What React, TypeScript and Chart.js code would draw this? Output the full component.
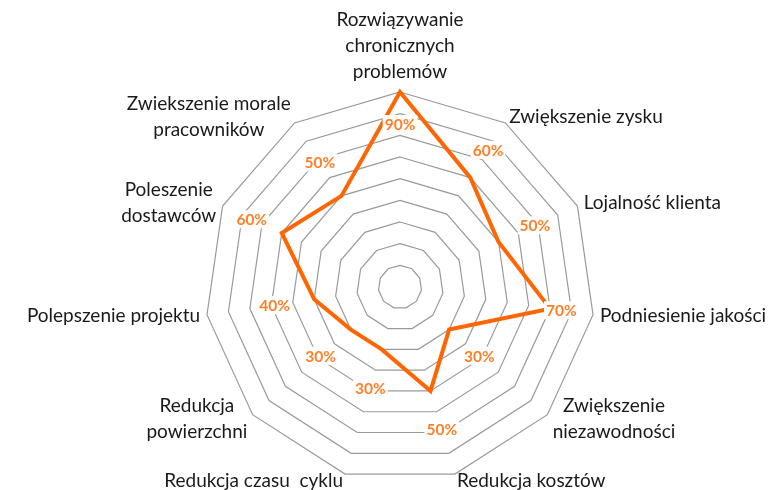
import React, { useEffect, useRef } from "react";
import { Chart, registerables } from "chart.js";

Chart.register(...registerables);

// ---- data ----
const categories: string[][] = [
  ["Rozwiązywanie", "chronicznych", "problemów"],
  ["Zwiększenie zysku"],
  ["Lojalność klienta"],
  ["Podniesienie jakości"],
  ["Zwiększenie", "niezawodności"],
  ["Redukcja kosztów"],
  ["Redukcja czasu  cyklu"],
  ["Redukcja", "powierzchni"],
  ["Polepszenie projektu"],
  ["Poleszenie", "dostawców"],
  ["Zwiekszenie morale", "pracowników"],
];
const values: number[] = [90, 60, 50, 70, 30, 50, 30, 30, 40, 60, 50];
const valueLabels: string[] = values.map((v) => v + "%");
const scaleMin = 0;
const scaleMax = 90;
const scaleStep = 10;

const LINE_COLOR = "#FF6600";
const LABEL_COLOR = "#FF7F27";
const GRID_COLOR = "#9A9A9A";
const TEXT_COLOR = "#1a1a1a";
const FONT_FAMILY = "Lato, 'Liberation Sans', sans-serif";

const labelsPlugin = {
  id: "customLabels",
  afterDatasetsDraw(chart: any) {
    const scale = chart.scales.r;
    const ctx = chart.ctx;
    const R = scale.drawingArea;
    ctx.save();
    // data labels
    ctx.font = `bold 15.5px ${FONT_FAMILY}`;
    ctx.textAlign = "center";
    ctx.textBaseline = "middle";
    values.forEach((v, i) => {
      const r = scale.getDistanceFromCenterForValue(v);
      const lr = Math.min(r + 40, R - 32);
      const p = scale.getPointPosition(i, lr);
      const txt = valueLabels[i];
      const w = ctx.measureText(txt).width;
      ctx.fillStyle = "#ffffff";
      ctx.fillRect(p.x - w / 2 - 2, p.y - 9, w + 4, 18);
      ctx.fillStyle = LABEL_COLOR;
      ctx.fillText(txt, p.x, p.y + 1);
    });
    // category labels
    const lineH = 26;
    ctx.font = `19px ${FONT_FAMILY}`;
    ctx.fillStyle = TEXT_COLOR;
    categories.forEach((lines, i) => {
      const a = scale.getPointPosition(i, R + 7);
      const theta = (i * 2 * Math.PI) / categories.length;
      const s = Math.sin(theta);
      const c = Math.cos(theta);
      const blockH = lines.length * lineH;
      const blockW = Math.max(...lines.map((t) => ctx.measureText(t).width));
      let cx: number;
      let cy = a.y;
      if (Math.abs(s) < 0.1) {
        cx = a.x;
        cy = a.y - (c * blockH) / 2;
      } else if (s > 0) {
        cx = a.x + blockW / 2;
      } else {
        cx = a.x - blockW / 2;
      }
      ctx.textAlign = "center";
      ctx.textBaseline = "middle";
      lines.forEach((t, k) => {
        const y = cy - blockH / 2 + lineH * (k + 0.5);
        ctx.fillText(t, cx, y);
      });
    });
    ctx.restore();
  },
};

export default function App() {
  const ref = useRef<HTMLCanvasElement | null>(null);
  useEffect(() => {
    if (!ref.current) return;
    const chart = new Chart(ref.current, {
      type: "radar",
      data: {
        labels: categories,
        datasets: [
          {
            data: values,
            borderColor: LINE_COLOR,
            borderWidth: 4,
            fill: false,
            pointRadius: 0,
            pointHoverRadius: 0,
            borderJoinStyle: "miter",
            tension: 0,
          },
        ],
      },
      options: {
        animation: false,
        responsive: true,
        maintainAspectRatio: false,
        layout: { padding: { top: 92, bottom: 8, left: 24, right: 0 } },
        plugins: {
          legend: { display: false },
          tooltip: { enabled: false },
          title: { display: false },
        },
        scales: {
          r: {
            min: scaleMin,
            max: scaleMax,
            ticks: { stepSize: scaleStep, display: false },
            grid: { color: GRID_COLOR, lineWidth: 1.2 },
            angleLines: { display: false },
            pointLabels: { display: false },
          },
        },
      },
      plugins: [labelsPlugin],
    });
    return () => chart.destroy();
  }, []);
  return (
    <div style={{ position: "absolute", left: 0, top: 0, width: 776, height: 490, background: "#fff" }}>
      <canvas ref={ref} />
    </div>
  );
}
